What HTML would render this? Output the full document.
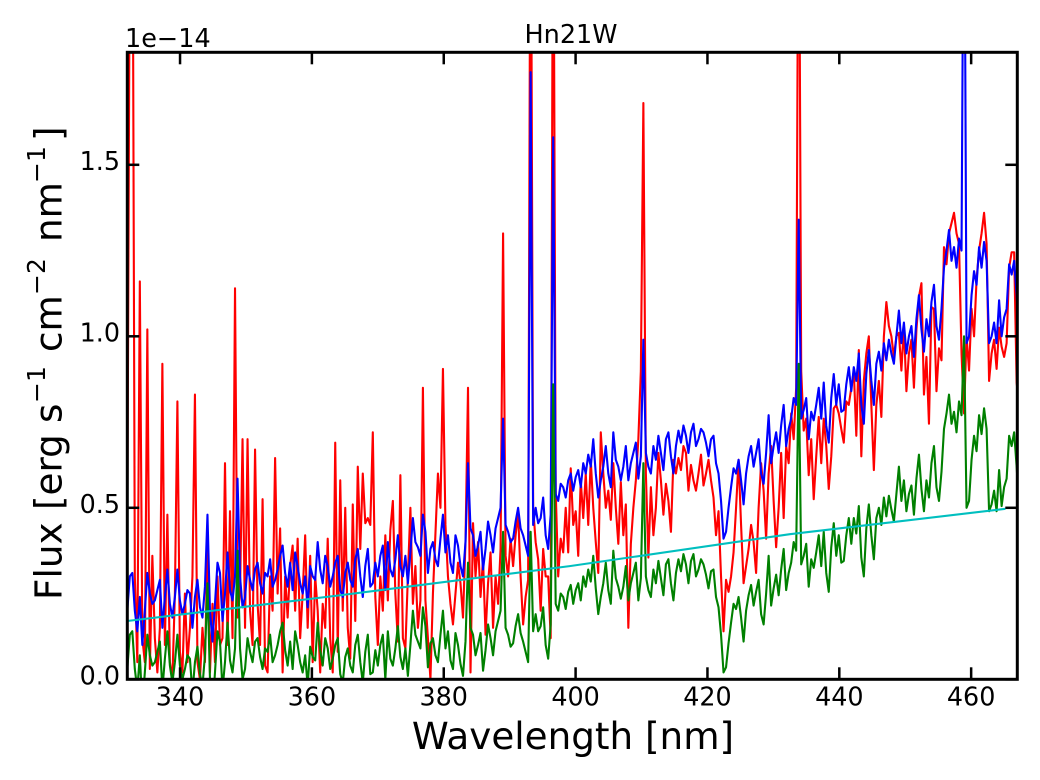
<!DOCTYPE html>
<html lang="en">
<head>
<meta charset="utf-8">
<title>Hn21W spectrum</title>
<style>
html,body{margin:0;padding:0;background:#fff;width:1040px;height:780px;overflow:hidden}
svg{display:block}
text{font-family:"DejaVu Sans","Liberation Sans",sans-serif;fill:#000}
</style>
</head>
<body>
<svg id="chart" xmlns="http://www.w3.org/2000/svg" width="1040" height="780" viewBox="0 0 1040 780">
  <defs>
    <clipPath id="plot-clip"><rect x="127.3" y="52.3" width="890" height="627"/></clipPath>
  </defs>
  <rect x="0" y="0" width="1040" height="780" fill="#fff"/>
  <g id="series" clip-path="url(#plot-clip)"></g>
  <g id="ticks"></g>
  <rect x="127.3" y="52.3" width="890" height="627" fill="none" stroke="#000" stroke-width="3"/>
  <text x="571" y="43" font-size="25.5" text-anchor="middle">Hn21W</text>
  <text x="125" y="47" font-size="25.5">1e−14</text>
  <text x="573" y="749" font-size="37.3" text-anchor="middle">Wavelength [nm]</text>
  <g>
    <text transform="translate(61.7,600) rotate(-90)" font-size="37.3">Flux</text>
    <text transform="translate(61.7,510) rotate(-90)" font-size="37.3">[erg</text>
    <text transform="translate(61.7,423) rotate(-90)" font-size="37.3">s</text>
    <text transform="translate(45,403) rotate(-90)" font-size="25">−1</text>
    <text transform="translate(61.7,352) rotate(-90)" font-size="37.3">cm</text>
    <text transform="translate(45,295) rotate(-90)" font-size="25">−2</text>
    <text transform="translate(61.7,242) rotate(-90)" font-size="37.3">nm</text>
    <text transform="translate(45,183) rotate(-90)" font-size="25">−1</text>
    <text transform="translate(61.7,141) rotate(-90)" font-size="37.3">]</text>
  </g>
</svg>
<script>
const wavelengths = [
332,332.38,332.76,333.14,333.52,333.9,334.28,334.66,335.04,335.42,
335.8,336.18,336.56,336.94,337.32,337.7,338.08,338.46,338.84,339.22,
339.6,339.98,340.36,340.74,341.12,341.5,341.88,342.26,342.64,343.02,
343.4,343.78,344.16,344.54,344.92,345.3,345.68,346.06,346.44,346.82,
347.2,347.58,347.96,348.34,348.72,349.1,349.48,349.86,350.24,350.62,
351,351.38,351.76,352.14,352.52,352.9,353.28,353.66,354.04,354.42,
354.8,355.18,355.56,355.94,356.32,356.7,357.08,357.46,357.84,358.22,
358.6,358.98,359.36,359.74,360.12,360.5,360.88,361.26,361.64,362.02,
362.4,362.78,363.16,363.54,363.92,364.3,364.68,365.06,365.44,365.82,
366.2,366.58,366.96,367.34,367.72,368.1,368.48,368.86,369.24,369.62,
370,370.38,370.76,371.14,371.52,371.9,372.28,372.66,373.04,373.42,
373.8,374.18,374.56,374.94,375.32,375.7,376.08,376.46,376.84,377.22,
377.6,377.98,378.36,378.74,379.12,379.5,379.88,380.26,380.64,381.02,
381.4,381.78,382.16,382.54,382.92,383.3,383.68,384.06,384.44,384.82,
385.2,385.58,385.96,386.34,386.72,387.1,387.48,387.86,388.24,388.62,
389,389.38,389.76,390.14,390.52,390.9,391.28,391.66,392.04,392.42,
392.8,393.18,393.56,393.94,394.32,394.7,395.08,395.46,395.84,396.22,
396.6,396.98,397.36,397.74,398.12,398.5,398.88,399.26,399.64,400.02,
400.4,400.78,401.16,401.54,401.92,402.3,402.68,403.06,403.44,403.82,
404.2,404.58,404.96,405.34,405.72,406.1,406.48,406.86,407.24,407.62,
408,408.38,408.76,409.14,409.52,409.9,410.28,410.66,411.04,411.42,
411.8,412.18,412.56,412.94,413.32,413.7,414.08,414.46,414.84,415.22,
415.6,415.98,416.36,416.74,417.12,417.5,417.88,418.26,418.64,419.02,
419.4,419.78,420.16,420.54,420.92,421.3,421.68,422.06,422.44,422.82,
423.2,423.58,423.96,424.34,424.72,425.1,425.48,425.86,426.24,426.62,
427,427.38,427.76,428.14,428.52,428.9,429.28,429.66,430.04,430.42,
430.8,431.18,431.56,431.94,432.32,432.7,433.08,433.46,433.84,434.22,
434.6,434.98,435.36,435.74,436.12,436.5,436.88,437.26,437.64,438.02,
438.4,438.78,439.16,439.54,439.92,440.3,440.68,441.06,441.44,441.82,
442.2,442.58,442.96,443.34,443.72,444.1,444.48,444.86,445.24,445.62,
446,446.38,446.76,447.14,447.52,447.9,448.28,448.66,449.04,449.42,
449.8,450.18,450.56,450.94,451.32,451.7,452.08,452.46,452.84,453.22,
453.6,453.98,454.36,454.74,455.12,455.5,455.88,456.26,456.64,457.02,
457.4,457.78,458.16,458.54,458.92,459.3,459.68,460.06,460.44,460.82,
461.2,461.58,461.96,462.34,462.72,463.1,463.48,463.86,464.24,464.62,
465,465.38,465.76,466.14,466.52,466.9,467.28];

const redFlux = [
.43,2.2,2.6,.30,.05,1.16,.12,.05,1.02,.03,
.36,.12,.02,.15,.92,.10,.48,.05,0,.25,
.81,.08,.02,.25,.05,.15,.3,.83,.05,0,
.15,.05,.38,.02,.22,.05,.30,.10,.12,.63,
.10,.49,.12,1.14,.18,.25,.70,.15,.70,.20,
.10,.67,.22,.10,.525,.04,.02,.30,.20,.645,
.25,.44,.02,.30,.18,.33,.39,.20,.41,.12,
.25,.42,.15,.36,.05,.30,.20,.02,.22,.15,
.41,.12,.02,.69,.08,.58,.20,.50,.15,.06,
.51,.17,.62,.38,.60,.455,.47,.45,.72,.24,
.10,.30,.20,.42,.23,.435,.52,.25,.11,.595,
.12,.09,.30,.50,.22,.33,.15,.23,.85,.23,
.12,0,.25,.425,.60,.50,.905,.45,.30,.22,
.16,.25,.34,.28,.18,.40,.85,.02,.455,.30,
.40,.24,.35,.13,.28,.37,.15,.30,.22,.38,
1.30,.36,.30,.41,.33,.42,.485,.30,.16,.24,
.29,2.6,.50,.40,.35,.20,.38,.30,.30,.12,
2.6,.55,.30,.41,.37,.50,.37,.615,.45,.49,
.36,.58,.47,.60,.45,.64,.50,.40,.31,.72,
.60,.50,.55,.465,.63,.50,.395,.575,.42,.51,
.15,.395,.50,.58,.70,.90,1.68,.60,.355,.56,
.42,.50,.66,.58,.48,.57,.52,.43,.64,.60,
.645,.61,.68,.66,.55,.625,.58,.55,.60,.655,
.565,.60,.64,.58,.53,.42,.49,.30,.14,.29,
.255,.30,.37,.50,.64,.45,.28,.33,.38,.45,
.40,.31,.50,.63,.55,.41,.60,.68,.52,.385,
.50,.66,.47,.68,.63,.775,.70,.85,2.6,.90,
.725,.76,.595,.70,.525,.65,.765,.63,.76,.68,
.555,.65,.79,.80,.775,.73,.69,.81,.80,.85,
.90,.71,.96,.65,.87,.95,1.0,.80,.61,.80,
.87,.765,1.0,1.10,1.03,1.0,.94,1.0,1.01,.90,
1.03,.84,.95,.99,.85,1.02,1.115,1.155,.83,.94,
.745,1.085,1.08,.84,.965,.93,1.26,1.21,1.30,1.33,
1.36,1.30,1.27,.95,.775,1.0,.90,1.08,1.0,1.165,
1.25,1.30,1.36,1.27,.87,.95,.99,.905,1.025,.97,
.94,.98,1.2,1.245,1.245,.865,.80];

const blueFlux = [
.20,.30,.31,.20,.14,.24,.10,.20,.31,.25,.22,.23,.26,.29,.15,.24,.32,.22,.18,.24,
.32,.23,.19,.22,.26,.25,.15,.24,.29,.21,.18,.27,.48,.20,.11,.22,.34,.31,.17,.25,
.37,.26,.23,.30,.585,.30,.21,.24,.33,.29,.26,.32,.34,.28,.25,.31,.30,.35,.27,.29,
.32,.36,.39,.31,.27,.34,.26,.37,.33,.28,.25,.30,.21,.33,.30,.29,.40,.32,.28,.36,
.33,.27,.30,.34,.36,.26,.24,.31,.34,.29,.27,.35,.38,.30,.24,.33,.38,.27,.28,.34,
.30,.36,.39,.26,.40,.32,.30,.35,.42,.33,.30,.36,.28,.37,.47,.40,.385,.36,.48,.43,
.31,.38,.40,.35,.33,.41,.48,.37,.42,.34,.31,.42,.39,.33,.30,.40,.63,.44,.42,.36,
.39,.43,.32,.38,.46,.42,.37,.44,.47,.50,.76,.45,.43,.40,.41,.46,.50,.44,.42,.39,
.36,1.77,.45,.50,.455,.47,.53,.42,.38,.48,1.58,.54,.52,.57,.56,.53,.58,.60,.55,.59,
.61,.56,.63,.60,.655,.62,.70,.60,.53,.58,.62,.68,.60,.56,.72,.64,.62,.58,.62,.68,
.58,.63,.66,.69,.585,.65,.99,.66,.62,.60,.68,.64,.71,.66,.61,.70,.72,.65,.60,.68,
.725,.69,.74,.71,.66,.72,.745,.68,.70,.73,.72,.69,.65,.70,.71,.63,.60,.52,.41,.43,
.50,.56,.615,.60,.64,.58,.51,.60,.65,.68,.62,.66,.70,.60,.57,.66,.77,.63,.68,.72,
.66,.74,.80,.68,.73,.76,.82,.80,1.34,.76,.785,.82,.70,.78,.755,.80,.85,.76,.865,.74,
.69,.82,.89,.80,.86,.78,.785,.86,.91,.84,.91,.87,.95,.80,.745,.89,.96,.87,.80,.92,
.955,.90,.98,.93,.99,.95,.92,1.0,1.075,.98,1.04,.95,1.0,1.03,.94,1.05,1.12,1.02,.955,1.05,
1.0,1.10,1.15,1.03,.99,1.08,1.20,1.25,1.31,1.22,1.26,1.2,1.285,1.25,2.6,.98,1.0,1.12,1.19,1.15,
1.26,1.2,1.275,1.22,.98,1.0,1.04,.98,1.105,1.0,1.055,1.08,1.21,1.18,1.22,1.12,1.0];

const greenFlux = [
.03,.13,.14,.03,-.03,.07,-.08,.02,.13,.07,.04,.05,.08,.11,-.03,.06,.14,.04,-.01,.05,
.13,.04,0,.03,.07,.06,-.04,.05,.095,.015,-.02,.07,.28,0,-.09,.02,.14,.11,-.03,.05,
.165,.055,.02,.09,.375,.09,0,.03,.12,.08,.05,.11,.12,.065,.03,.09,.08,.13,.05,.07,
.10,.14,.165,.085,.04,.11,.03,.14,.10,.05,.02,.07,-.02,.095,.065,.055,.165,.085,.04,.12,
.09,.03,.06,.10,.12,.015,-.01,.065,.09,.04,.02,.10,.13,.05,-.01,.08,.13,.015,.02,.085,
.04,.10,.13,0,.14,.06,.04,.09,.155,.065,.03,.09,.01,.10,.20,.13,.11,.09,.21,.155,
.035,.105,.12,.07,.05,.13,.20,.09,.14,.055,.03,.135,.10,.045,.01,.11,.34,.15,.13,.07,
.10,.135,.025,.085,.16,.12,.07,.14,.17,.20,.43,.15,.13,.095,.105,.155,.19,.135,.11,.08,
.05,.43,.14,.19,.14,.155,.21,.10,.06,.16,.86,.22,.20,.25,.24,.205,.255,.275,.22,.26,
.28,.23,.30,.27,.32,.285,.36,.265,.19,.24,.28,.34,.26,.22,.375,.295,.27,.235,.27,.33,
.23,.28,.31,.34,.23,.295,.63,.30,.26,.24,.32,.28,.345,.295,.245,.335,.35,.28,.23,.31,
.35,.315,.365,.335,.28,.345,.365,.30,.32,.35,.335,.305,.265,.315,.32,.24,.21,.13,.02,.035,
.105,.165,.22,.205,.24,.18,.11,.20,.245,.275,.215,.255,.29,.19,.16,.25,.36,.215,.265,.305,
.245,.32,.38,.26,.31,.34,.40,.375,.92,.335,.36,.395,.27,.35,.325,.37,.42,.33,.43,.31,
.255,.385,.455,.36,.42,.34,.345,.42,.47,.395,.47,.425,.505,.355,.30,.44,.51,.42,.35,.47,
.50,.45,.53,.475,.535,.495,.46,.54,.62,.52,.58,.49,.54,.565,.48,.585,.655,.555,.49,.58,
.53,.63,.68,.56,.52,.605,.73,.775,.83,.745,.78,.72,.81,.77,1.0,.50,.52,.64,.71,.665,
.77,.715,.79,.73,.49,.51,.55,.49,.61,.505,.56,.585,.71,.68,.72,.62,.50];

const continuumWavelengths = [332,364.3,399.1,432.5,465.2];
const continuumFlux = [.17,.245,.33,.423,.497];

const xTickValues = [340,360,380,400,420,440,460];
const yTickValues = [0,0.5,1.0,1.5];
const yTickLabels = ["0.0","0.5","1.0","1.5"];

const xMin = 332, xMax = 467;
const plotLeft = 127.3, plotRight = 1017.3, plotTop = 52.3, plotBottom = 679.3;
const fluxPerHeight = 343;

function xScale(w){ return plotLeft + (w - xMin) * (plotRight - plotLeft) / (xMax - xMin); }
function yScale(v){ return plotBottom - v * fluxPerHeight; }

const NS = "http://www.w3.org/2000/svg";
const seriesGroup = document.getElementById("series");
const tickGroup = document.getElementById("ticks");

function drawLine(xs, ys, color, name){
  const el = document.createElementNS(NS, "polyline");
  
  
  el.setAttribute("points", ys.map(function(v,i){ return xScale(xs[i]).toFixed(2) + "," + yScale(v).toFixed(2); }).join(" "));
  el.setAttribute("fill", "none");
  el.setAttribute("stroke", color);
  el.setAttribute("stroke-width", "2.1");
  el.setAttribute("stroke-linejoin", "round");
  seriesGroup.appendChild(el);
}

drawLine(wavelengths, redFlux, "#ff0000", "red-spectrum-line");
drawLine(wavelengths, blueFlux, "#0000ff", "blue-spectrum-line");
drawLine(wavelengths, greenFlux, "#008000", "green-spectrum-line");
drawLine(continuumWavelengths, continuumFlux, "#00bfbf", "cyan-continuum-line");

function tickMark(x1, y1, x2, y2, name){
  const t = document.createElementNS(NS, "line");
  
  
  t.setAttribute("x1", x1);
  t.setAttribute("y1", y1);
  t.setAttribute("x2", x2);
  t.setAttribute("y2", y2);
  t.setAttribute("stroke", "#000");
  t.setAttribute("stroke-width", "2.5");
  tickGroup.appendChild(t);
}

function tickLabel(x, y, anchor, content, name){
  const t = document.createElementNS(NS, "text");
  
  
  t.setAttribute("x", x);
  t.setAttribute("y", y);
  t.setAttribute("font-size", "25.4");
  t.setAttribute("text-anchor", anchor);
  t.textContent = content;
  tickGroup.appendChild(t);
}

xTickValues.forEach(function(v){
  const x = xScale(v);
  tickMark(x, plotBottom, x, plotBottom - 12, "x-tick-bottom");
  tickMark(x, plotTop, x, plotTop + 12, "x-tick-top");
  tickLabel(x, 705.5, "middle", String(v), "x-tick-label");
});

yTickValues.forEach(function(v,i){
  const y = yScale(v);
  tickMark(plotLeft, y, plotLeft + 12, y, "y-tick-left");
  tickMark(plotRight, y, plotRight - 12, y, "y-tick-right");
  tickLabel(120, y + 5.3, "end", yTickLabels[i], "y-tick-label");
});
</script>
</body>
</html>
